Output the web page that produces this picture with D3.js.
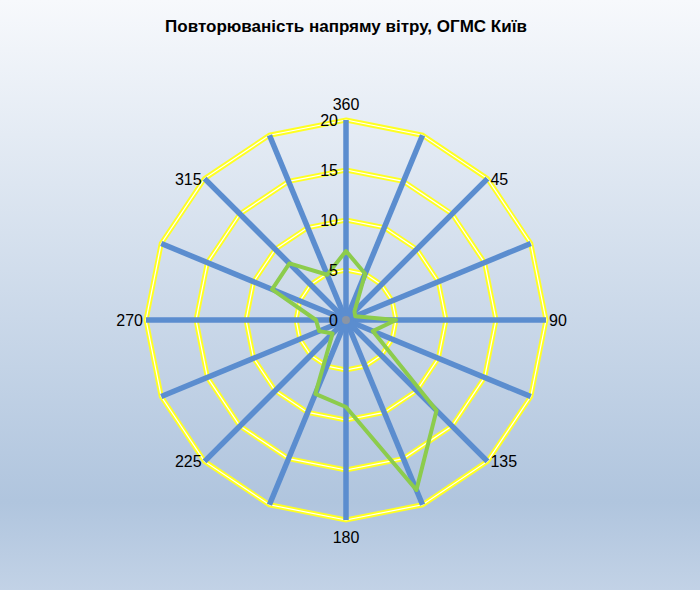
<!DOCTYPE html>
<html><head><meta charset="utf-8">
<script src="https://cdn.jsdelivr.net/npm/d3@7"></script>
<style>body{margin:0}svg{display:block;font-family:"Liberation Sans",Arial,sans-serif}</style>
</head><body>
<svg id="chart" width="700" height="590"></svg>
<script>
// wind direction frequency, %
var directions = [0, 22.5, 45, 67.5, 90, 112.5, 135, 157.5, 180, 202.5, 225, 247.5, 270, 292.5, 315, 337.5];
var freq = [6.9, 5.0, 1.2, 1.0, 5.0, 2.9, 12.8, 18.4, 8.7, 8.0, 1.9, 2.9, 3.0, 8.0, 8.0, 4.9];
var ringTicks = [0, 5, 10, 15, 20];
var dirLabels = [360, 45, 90, 135, 180, 225, 270, 315];

var svg = d3.select("#chart");
var defs = svg.append("defs");
var grad = defs.append("linearGradient").attr("id", "bg").attr("x1", 0).attr("y1", 0).attr("x2", 0).attr("y2", 1);
grad.append("stop").attr("offset", "0%").attr("stop-color", "#f7f9fc");
grad.append("stop").attr("offset", "85%").attr("stop-color", "#b0c5de");
grad.append("stop").attr("offset", "100%").attr("stop-color", "#c2d2e6");
svg.append("rect").attr("width", 700).attr("height", 590).attr("fill", "url(#bg)");

svg.append("text").attr("x", 346).attr("y", 32).attr("text-anchor", "middle")
    .attr("font-size", 17).attr("font-weight", "bold").text("Повторюваність напряму вітру, ОГМС Київ");

var cx = 346, cy = 320;
var r = d3.scaleLinear().domain([0, 20]).range([0, 200]);
var g = svg.append("g").attr("transform", "translate(" + cx + "," + cy + ")");
function pt(deg, v) {
    var a = deg * Math.PI / 180;
    return [r(v) * Math.sin(a), -r(v) * Math.cos(a)];
}
var ringLine = d3.line().curve(d3.curveLinearClosed);

// rings
ringTicks.slice(1).forEach(function (t) {
    var pts = directions.map(function (d) { return pt(d, t); });
    g.append("path").attr("d", ringLine(pts)).attr("fill", "none").attr("stroke", "#ffff22").attr("stroke-width", 5);
    g.append("path").attr("d", ringLine(pts)).attr("fill", "none").attr("stroke", "#ffffff").attr("stroke-width", 1.2);
});

// spokes
directions.forEach(function (d) {
    var p = pt(d, 20);
    g.append("line").attr("x1", 0).attr("y1", 0).attr("x2", p[0]).attr("y2", p[1])
        .attr("stroke", "#5b8dcf").attr("stroke-width", 5.5);
});
g.append("circle").attr("r", 4).attr("fill", "#8a95a5");

// series
g.append("path").attr("d", ringLine(directions.map(function (d, i) { return pt(d, freq[i]); })))
    .attr("fill", "none").attr("stroke", "#8ccc4c").attr("stroke-width", 4).attr("stroke-linejoin", "round");

// radial ticks
ringTicks.forEach(function (t) {
    g.append("text").attr("x", -8).attr("y", -r(t) + 6).attr("text-anchor", "end")
        .attr("font-size", 16).text(t);
});

// direction labels
dirLabels.forEach(function (d) {
    var p = pt(d, 20), s = Math.sin(d * Math.PI / 180), c = Math.cos(d * Math.PI / 180);
    var anchor = s > 0.1 ? "start" : (s < -0.1 ? "end" : "middle");
    var x = p[0] + (s > 0.1 ? 3 : (s < -0.1 ? -3 : 0));
    var y = p[1] + 6 + (Math.abs(s) < 0.1 ? (c > 0 ? -16 : 17) : 0);
    g.append("text").attr("x", x).attr("y", y).attr("text-anchor", anchor)
        .attr("font-size", 16).text(d);
});
</script>
</body></html>
